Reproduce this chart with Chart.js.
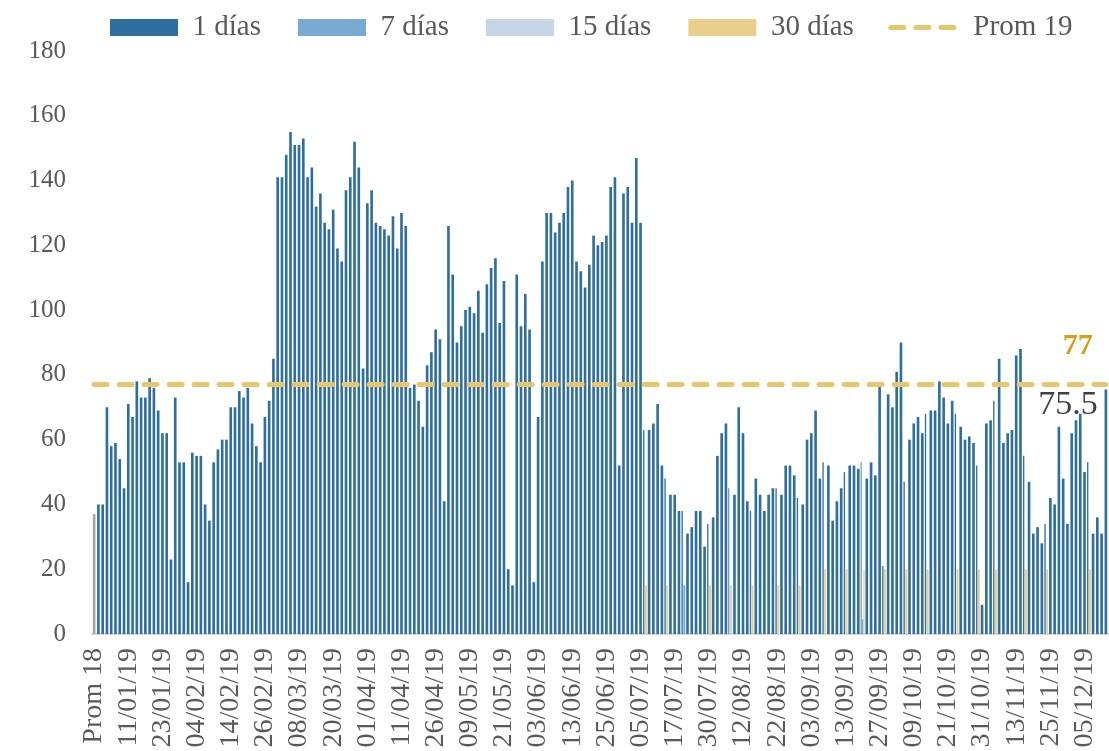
<!DOCTYPE html>
<html>
<head>
<meta charset="utf-8">
<script src="https://cdn.jsdelivr.net/npm/chart.js"></script>
<style>
    body {
        margin: 0;
        background: #ffffff;
    }
    .chart-container {
        position: relative;
        width: 1109px;
        height: 751px;
    }
</style>
</head>
<body>

<div class="chart-container">
    <canvas id="tasasChart"></canvas>
</div>

<script>
// labels shown on the axis, one every 8 categories
const tickLabels = [
    'Prom 18', '11/01/19', '23/01/19', '04/02/19', '14/02/19', '26/02/19',
    '08/03/19', '20/03/19', '01/04/19', '11/04/19', '26/04/19', '09/05/19',
    '21/05/19', '03/06/19', '13/06/19', '25/06/19', '05/07/19', '17/07/19',
    '30/07/19', '12/08/19', '22/08/19', '03/09/19', '13/09/19', '27/09/19',
    '09/10/19', '21/10/19', '31/10/19', '13/11/19', '25/11/19', '05/12/19'
];

const prom18 = 37;
const prom19 = 77;

// 1 dia, daily values 2019
const oneDay = [
    40, 40, 70, 58, 59, 54, 45, 71, 67, 78, 73, 73, 79, 76, 69, 62, 62, 23, 73, 53,
    53, 16, 56, 55, 55, 40, 35, 53, 57, 60, 60, 70, 70, 75, 73, 76, 65, 58, 53, 67,
    72, 85, 141, 141, 148, 155, 151, 151, 153, 141, 144, 132, 136, 127, 125, 131, 119, 115, 137, 141,
    152, 144, 82, 133, 137, 127, 126, 125, 123, 129, 119, 130, 126, 76, 77, 72, 64, 83, 87, 94,
    91, 41, 126, 111, 90, 95, 100, 101, 99, 106, 93, 108, 113, 116, 96, 109, 20, 15, 111, 95,
    105, 94, 16, 67, 115, 130, 130, 124, 127, 130, 138, 140, 115, 112, 107, 114, 123, 120, 121, 123,
    138, 141, 52, 136, 138, 127, 147, 127, 63, 63, 65, 71, 52, 48, 43, 43, 38, 38, 31, 33,
    38, 38, 27, 34, 36, 55, 62, 65, 45, 43, 70, 62, 41, 38, 48, 43, 38, 43, 45, 45,
    43, 52, 52, 49, 42, 40, 60, 62, 69, 48, 53, 52, 35, 41, 45, 50, 52, 52, 51, 53,
    48, 53, 49, 77, 21, 74, 70, 81, 90, 47, 60, 65, 67, 62, 68, 69, 69, 78, 73, 65,
    72, 68, 64, 60, 61, 59, 52, 9, 65, 66, 72, 85, 59, 62, 63, 86, 88, 55, 47, 31,
    33, 28, 34, 42, 40, 64, 48, 34, 62, 66, 68, 50, 53, 31, 36, 31, 75.5
];

// sparse tenors: category index and value
const sevenDayIdx = [138, 180];
const sevenDayVal = [15, 4.5];
const fifteenDayIdx = [149];
const fifteenDayVal = [15];
const thirtyDayIdx = [129, 134, 144, 149, 154, 160, 165, 171, 176, 180, 185, 190, 195, 202, 207, 211, 218, 223, 233];
const thirtyDayVal = [15, 15, 15, 15, 15, 15, 15, 20, 20, 20, 20, 20, 20, 20, 20, 20, 20, 20, 20];

const n = oneDay.length + 1;
const categories = Array.from({length: n}, (_, i) => i % 8 === 0 ? (tickLabels[i / 8] || '') : '');

function sparse(idx, vals) {
    const arr = new Array(n).fill(null);
    idx.forEach((k, j) => { arr[k] = vals[j]; });
    return arr;
}

const FONT = '"Liberation Serif", "DejaVu Serif", serif';
const TXT = '#595959';
const C1 = '#2f6f9f', C7 = '#78aad4', C15 = '#c4d6e6', C30 = '#e9d08a', CPROM = '#e8c66e';

// move the legend to where it sits in the original
const legendShift = {
    id: 'legendShift',
    afterUpdate(chart) {
        const lg = chart.legend;
        if (!lg || !lg.legendHitBoxes.length) return;
        const pad = lg.options.labels.padding;
        const fs = lg.options.labels.font.size;
        const dx = 110 - lg.legendHitBoxes[0].left;
        const dy = (27.5 - fs / 2 - pad) - lg.top;
        lg.left += dx; lg.right += dx;
        lg.top += dy;
        lg.legendHitBoxes.forEach(h => { h.left += dx; h.top += dy; });
    }
};

const endLabels = {
    id: 'endLabels',
    afterDatasetsDraw(chart) {
        const {ctx, scales: {x, y}} = chart;
        const xr = x.getPixelForValue(n - 1);
        const yl = y.getPixelForValue(prom19);
        ctx.save();
        ctx.textAlign = 'right';
        ctx.textBaseline = 'middle';
        ctx.font = 'bold 30px ' + FONT;
        ctx.fillStyle = '#d4a017';
        ctx.fillText(String(prom19), xr - 13, yl - 38);
        ctx.font = '34px ' + FONT;
        ctx.fillStyle = '#404040';
        ctx.fillText(String(oneDay[oneDay.length - 1]), xr - 8, yl + 20);
        ctx.restore();
    }
};

const barCommon = {
    type: 'bar',
    borderWidth: 0,
    categoryPercentage: 1,
    barPercentage: 0.62,
    skipNull: true,
    order: 1
};

new Chart(document.getElementById('tasasChart').getContext('2d'), {
    data: {
        labels: categories,
        datasets: [
            Object.assign({}, barCommon, {
                label: '1 días',
                data: [prom18, ...oneDay],
                legendColor: C1,
                backgroundColor: ctx => ctx.dataIndex === 0 ? '#a5a5a5' : C1
            }),
            Object.assign({}, barCommon, {
                label: '7 días',
                data: sparse(sevenDayIdx, sevenDayVal),
                barPercentage: 0.9,
                legendColor: C7,
                backgroundColor: C7
            }),
            Object.assign({}, barCommon, {
                label: '15 días',
                data: sparse(fifteenDayIdx, fifteenDayVal),
                barPercentage: 0.9,
                legendColor: C15,
                backgroundColor: C15
            }),
            Object.assign({}, barCommon, {
                label: '30 días',
                data: sparse(thirtyDayIdx, thirtyDayVal),
                barPercentage: 0.9,
                legendColor: C30,
                backgroundColor: C30
            }),
            {
                type: 'line',
                label: 'Prom 19',
                data: categories.map(() => prom19),
                borderColor: CPROM,
                backgroundColor: CPROM,
                borderWidth: 5,
                borderDash: [13, 12],
                borderCapStyle: 'round',
                pointRadius: 0,
                order: 0
            }
        ]
    },
    options: {
        responsive: true,
        maintainAspectRatio: false,
        animation: false,
        layout: { padding: { top: 0, right: 1, left: 0, bottom: 0 } },
        plugins: {
            tooltip: { enabled: false },
            legend: {
                position: 'top',
                maxHeight: 51,
                labels: {
                    usePointStyle: true,
                    pointStyleWidth: 68,
                    boxHeight: 17,
                    padding: 37,
                    color: TXT,
                    font: { family: FONT, size: 29 },
                    generateLabels: chart => chart.data.datasets.map((ds, i) => {
                        const isLine = ds.type === 'line';
                        return {
                            text: ds.label,
                            datasetIndex: i,
                            fillStyle: isLine ? 'rgba(0,0,0,0)' : ds.legendColor,
                            strokeStyle: isLine ? ds.borderColor : 'rgba(0,0,0,0)',
                            lineWidth: isLine ? ds.borderWidth : 0,
                            lineDash: isLine ? ds.borderDash : [],
                            lineCap: isLine ? 'round' : 'butt',
                            pointStyle: isLine ? 'line' : 'rect',
                            fontColor: TXT,
                            hidden: !chart.isDatasetVisible(i)
                        };
                    })
                }
            }
        },
        scales: {
            x: {
                grid: { display: false, drawTicks: false },
                border: { display: true, color: '#d9d9d9', width: 2 },
                ticks: {
                    autoSkip: false,
                    maxRotation: 90,
                    minRotation: 90,
                    padding: 14,
                    color: TXT,
                    font: { family: FONT, size: 28 }
                },
                afterFit: s => { s.height = 117; s.paddingLeft = 0; s.paddingRight = 0; }
            },
            y: {
                min: 0,
                max: 180,
                grid: { display: false, drawTicks: false },
                border: { display: false },
                ticks: {
                    stepSize: 20,
                    padding: 26,
                    color: TXT,
                    font: { family: FONT, size: 25 }
                },
                afterFit: s => { s.width = 92; }
            }
        }
    },
    plugins: [legendShift, endLabels]
});
</script>
</body>
</html>
